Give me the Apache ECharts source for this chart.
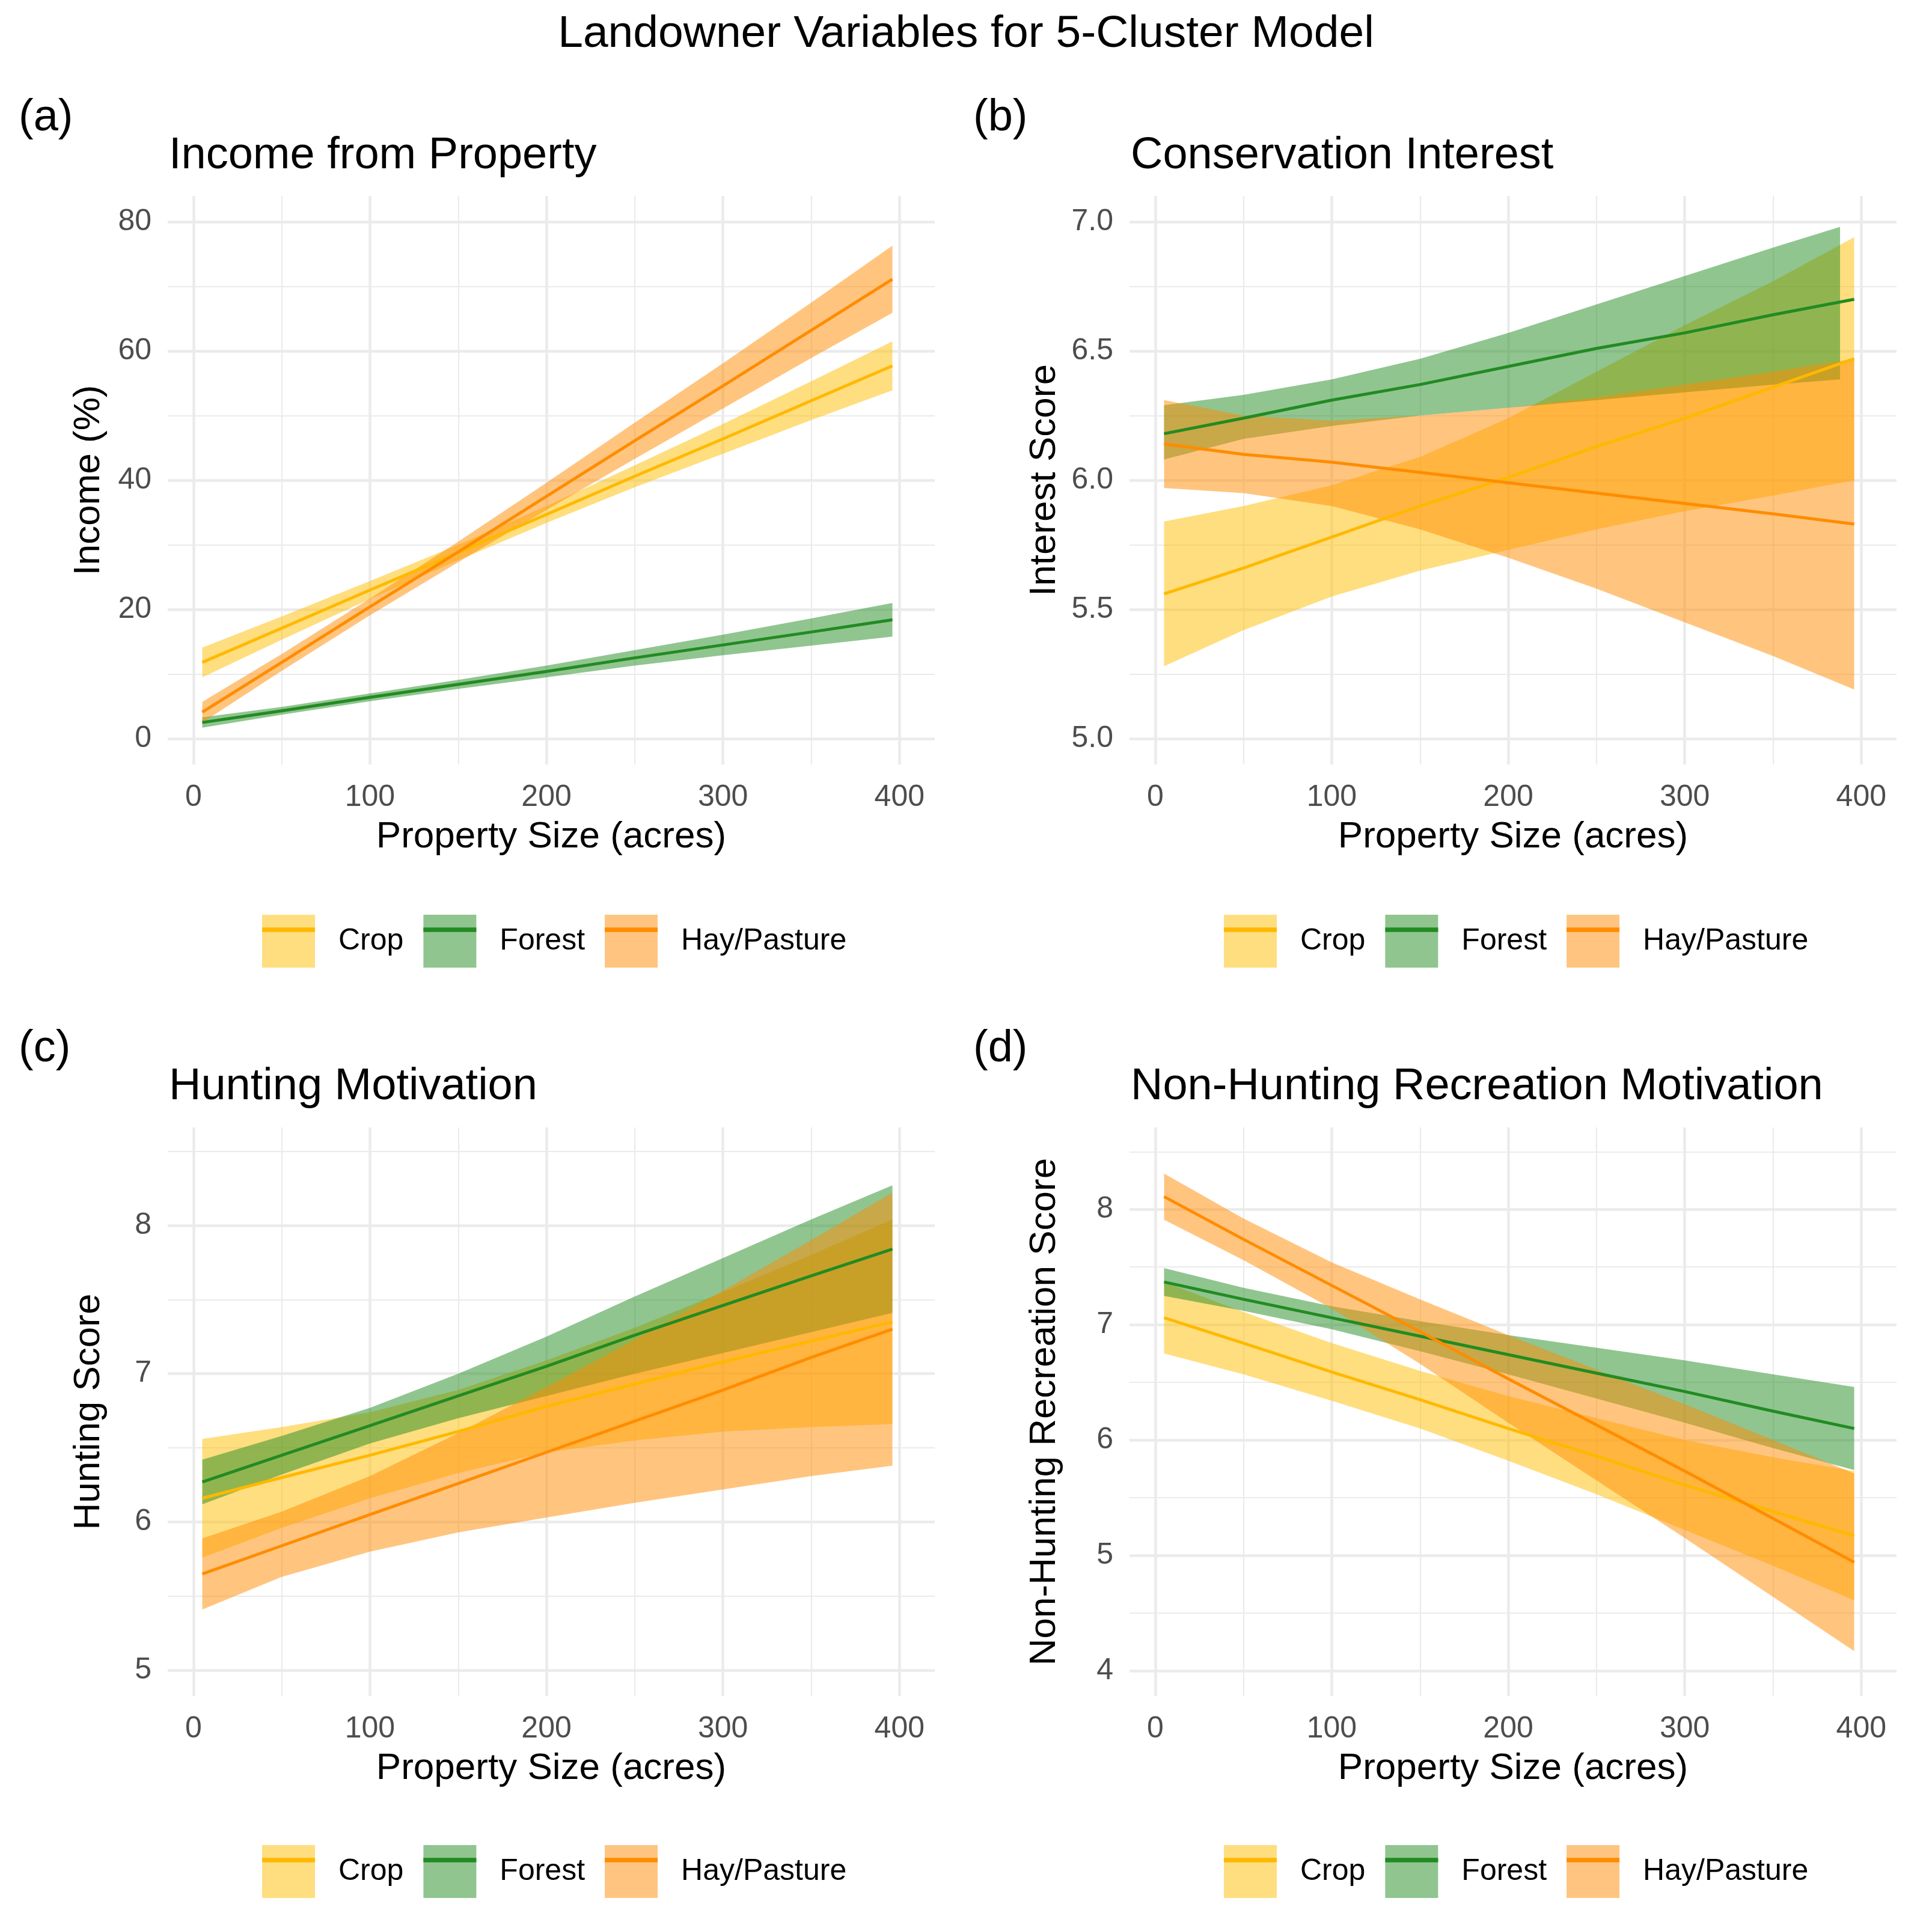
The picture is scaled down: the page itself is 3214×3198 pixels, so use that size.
<!DOCTYPE html>
<html>
<head>
<meta charset="utf-8">
<title>Landowner Variables for 5-Cluster Model</title>
<script src="https://cdn.jsdelivr.net/npm/echarts@6.0.0/dist/echarts.min.js"></script>
<style>
    html, body { margin: 0; padding: 0; background: #fff; }
    #chart { width: 3214px; height: 3198px; }
</style>
</head>
<body>
<div id="chart"></div>
<script>
// x positions (property size, acres)
var xs = [5, 50, 100, 150, 200, 250, 300, 350, 396];
var xsForestBand = [5, 50, 100, 150, 200, 250, 300, 350, 388]; // forest ribbon in (b) stops early

var xTicks = [0, 100, 200, 300, 400];
var xMinor = [50, 150, 250, 350];

var groups = ['Crop', 'Forest', 'Hay/Pasture'];

// (a) Income from Property
var incomeCropMean   = [11.8, 17.1, 23.0, 28.8, 34.7, 40.6, 46.4, 52.3, 57.7];
var incomeCropLow    = [9.5, 15.3, 21.6, 27.6, 33.4, 38.9, 44.1, 49.3, 53.9];
var incomeCropHigh   = [14.1, 18.9, 24.4, 30.0, 36.0, 42.3, 48.7, 55.3, 61.5];
var incomeForestMean = [2.5, 4.3, 6.4, 8.4, 10.4, 12.5, 14.5, 16.5, 18.4];
var incomeForestLow  = [1.7, 3.7, 5.8, 7.7, 9.5, 11.3, 12.9, 14.4, 15.8];
var incomeForestHigh = [3.3, 4.9, 7.0, 9.1, 11.3, 13.7, 16.1, 18.6, 21.0];
var incomeHayMean    = [4.1, 11.8, 20.4, 28.9, 37.5, 46.1, 54.6, 63.2, 71.1];
var incomeHayLow     = [2.5, 10.5, 19.1, 27.3, 35.4, 43.3, 51.1, 58.9, 65.9];
var incomeHayHigh    = [5.7, 13.1, 21.7, 30.5, 39.6, 48.9, 58.1, 67.5, 76.3];
var incomeTicks = [0, 20, 40, 60, 80];
var incomeMinor = [10, 30, 50, 70];

// (b) Conservation Interest
var interestCropMean   = [5.56, 5.66, 5.78, 5.90, 6.01, 6.13, 6.24, 6.36, 6.47];
var interestCropLow    = [5.28, 5.42, 5.55, 5.65, 5.73, 5.81, 5.88, 5.94, 6.00];
var interestCropHigh   = [5.84, 5.90, 5.98, 6.09, 6.24, 6.42, 6.60, 6.77, 6.94];
var interestForestMean = [6.18, 6.24, 6.31, 6.37, 6.44, 6.51, 6.57, 6.64, 6.70];
var interestForestLow  = [6.08, 6.16, 6.21, 6.25, 6.28, 6.31, 6.34, 6.37, 6.39];
var interestForestHigh = [6.29, 6.33, 6.39, 6.47, 6.57, 6.68, 6.79, 6.90, 6.98];
var interestHayMean    = [6.14, 6.10, 6.07, 6.03, 5.99, 5.95, 5.91, 5.87, 5.83];
var interestHayLow     = [5.97, 5.95, 5.90, 5.81, 5.70, 5.58, 5.45, 5.32, 5.19];
var interestHayHigh    = [6.31, 6.25, 6.23, 6.25, 6.28, 6.32, 6.37, 6.42, 6.47];
var interestTicks = [5.0, 5.5, 6.0, 6.5, 7.0];
var interestMinor = [5.25, 5.75, 6.25, 6.75];

// (c) Hunting Motivation
var huntingCropMean   = [6.16, 6.30, 6.45, 6.61, 6.78, 6.93, 7.08, 7.22, 7.35];
var huntingCropLow    = [5.76, 5.96, 6.16, 6.33, 6.47, 6.55, 6.61, 6.64, 6.66];
var huntingCropHigh   = [6.56, 6.64, 6.74, 6.89, 7.09, 7.31, 7.55, 7.80, 8.04];
var huntingForestMean = [6.27, 6.45, 6.65, 6.85, 7.05, 7.26, 7.46, 7.66, 7.84];
var huntingForestLow  = [6.12, 6.32, 6.53, 6.70, 6.85, 7.00, 7.14, 7.28, 7.41];
var huntingForestHigh = [6.42, 6.58, 6.77, 7.00, 7.25, 7.52, 7.78, 8.04, 8.27];
var huntingHayMean    = [5.65, 5.84, 6.05, 6.26, 6.47, 6.68, 6.89, 7.11, 7.30];
var huntingHayLow     = [5.41, 5.63, 5.80, 5.93, 6.03, 6.13, 6.22, 6.31, 6.38];
var huntingHayHigh    = [5.89, 6.07, 6.31, 6.60, 6.91, 7.23, 7.56, 7.90, 8.22];
var huntingTicks = [5, 6, 7, 8];
var huntingMinor = [5.5, 6.5, 7.5, 8.5];

// (d) Non-Hunting Recreation Motivation
var recreationCropMean   = [7.06, 6.84, 6.59, 6.35, 6.10, 5.86, 5.61, 5.38, 5.17];
var recreationCropLow    = [6.75, 6.57, 6.34, 6.10, 5.82, 5.53, 5.22, 4.91, 4.61];
var recreationCropHigh   = [7.37, 7.11, 6.84, 6.60, 6.38, 6.19, 6.00, 5.85, 5.73];
var recreationForestMean = [7.37, 7.22, 7.06, 6.90, 6.74, 6.58, 6.42, 6.25, 6.10];
var recreationForestLow  = [7.25, 7.12, 6.96, 6.77, 6.57, 6.36, 6.15, 5.93, 5.74];
var recreationForestHigh = [7.49, 7.32, 7.16, 7.03, 6.91, 6.80, 6.69, 6.57, 6.46];
var recreationHayMean    = [8.11, 7.74, 7.34, 6.94, 6.53, 6.13, 5.73, 5.32, 4.94];
var recreationHayLow     = [7.91, 7.56, 7.14, 6.66, 6.15, 5.65, 5.15, 4.64, 4.17];
var recreationHayHigh    = [8.31, 7.92, 7.54, 7.22, 6.91, 6.61, 6.31, 6.00, 5.71];
var recreationTicks = [4, 5, 6, 7, 8];
var recreationMinor = [4.5, 5.5, 6.5, 7.5, 8.5];

// 每个子图引用上面的数组
var panels = [
    { tag: '(a)', title: 'Income from Property', yName: 'Income (%)', yMin: -4, yMax: 84,
      yTicks: incomeTicks, yMinor: incomeMinor, digits: 0,
      mean: [incomeCropMean, incomeForestMean, incomeHayMean],
      low: [incomeCropLow, incomeForestLow, incomeHayLow],
      high: [incomeCropHigh, incomeForestHigh, incomeHayHigh],
      bandX: [xs, xs, xs] },
    { tag: '(b)', title: 'Conservation Interest', yName: 'Interest Score', yMin: 4.9, yMax: 7.1,
      yTicks: interestTicks, yMinor: interestMinor, digits: 1,
      mean: [interestCropMean, interestForestMean, interestHayMean],
      low: [interestCropLow, interestForestLow, interestHayLow],
      high: [interestCropHigh, interestForestHigh, interestHayHigh],
      bandX: [xs, xsForestBand, xs] },
    { tag: '(c)', title: 'Hunting Motivation', yName: 'Hunting Score', yMin: 4.827, yMax: 8.66,
      yTicks: huntingTicks, yMinor: huntingMinor, digits: 0,
      mean: [huntingCropMean, huntingForestMean, huntingHayMean],
      low: [huntingCropLow, huntingForestLow, huntingHayLow],
      high: [huntingCropHigh, huntingForestHigh, huntingHayHigh],
      bandX: [xs, xs, xs] },
    { tag: '(d)', title: 'Non-Hunting Recreation Motivation', yName: 'Non-Hunting Recreation Score',
      yMin: 3.78, yMax: 8.71, yTicks: recreationTicks, yMinor: recreationMinor, digits: 0,
      mean: [recreationCropMean, recreationForestMean, recreationHayMean],
      low: [recreationCropLow, recreationForestLow, recreationHayLow],
      high: [recreationCropHigh, recreationForestHigh, recreationHayHigh],
      bandX: [xs, xs, xs] }
];

// 样式和位置
var FONT = "'Liberation Sans', Arial, Helvetica, sans-serif";
var lineColors = ['#FFB800', '#228B22', '#FF8C00'];
var fillColors = ['rgba(255,190,0,0.5)', 'rgba(34,139,34,0.5)', 'rgba(255,140,0,0.5)'];
var keyColors  = ['#FFDE80', '#90C590', '#FFC580']; // ribbon colour over white
var gridColor = '#EBEBEB';
var layout = [
    { left: 279,  top: 326,  tagLeft: 31,   tagTop: 160,  titleTop: 223,  nameGap: 100, legendLeft: 436,  legendTop: 1522 },
    { left: 1879, top: 326,  tagLeft: 1619, tagTop: 160,  titleTop: 223,  nameGap: 110, legendLeft: 2036, legendTop: 1522 },
    { left: 279,  top: 1876, tagLeft: 31,   tagTop: 1709, titleTop: 1772, nameGap: 100, legendLeft: 436,  legendTop: 3070 },
    { left: 1879, top: 1876, tagLeft: 1619, tagTop: 1709, titleTop: 1772, nameGap: 110, legendLeft: 2036, legendTop: 3070 }
];
var panelW = 1276, panelH = 946;

function pairs(xArr, yArr) {
    return xArr.map(function (x, i) { return [x, yArr[i]]; });
}

// 置信带: 整条带画成一个多边形 (上界正向 + 下界反向)
function ribbonRenderer(fill) {
    return function (params, api) {
        if (params.dataIndexInside !== 0) return null;
        var n = params.dataInsideLength;
        var top = [], bottom = [];
        for (var j = 0; j < n; j++) {
            var x = api.value(0, j);
            top.push(api.coord([x, api.value(2, j)]));
            bottom.unshift(api.coord([x, api.value(1, j)]));
        }
        return {
            type: 'polygon',
            shape: { points: top.concat(bottom) },
            style: { fill: fill, stroke: null, lineWidth: 0 },
            silent: true
        };
    };
}

var titles = [{
    text: 'Landowner Variables for 5-Cluster Model',
    left: 'center', top: 20, padding: 0,
    textStyle: { fontSize: 75, fontWeight: 'normal', color: '#000', fontFamily: FONT }
}];
var grids = [], xAxes = [], yAxes = [], series = [], legends = [];

panels.forEach(function (p, i) {
    var L = layout[i];
    titles.push({ text: p.tag, left: L.tagLeft, top: L.tagTop, padding: 0,
        textStyle: { fontSize: 74, fontWeight: 'normal', color: '#000', fontFamily: FONT } });
    titles.push({ text: p.title, left: L.left + 2, top: L.titleTop, padding: 0,
        textStyle: { fontSize: 74, fontWeight: 'normal', color: '#000', fontFamily: FONT } });

    grids.push({ left: L.left, top: L.top, width: panelW, height: panelH, containLabel: false });

    xAxes.push({
        gridIndex: i, type: 'value', min: -14.6, max: 420,
        axisLine: { show: false }, axisTick: { show: false }, splitLine: { show: false },
        axisLabel: { customValues: xTicks, fontSize: 50, color: '#4D4D4D', margin: 30, fontFamily: FONT },
        name: 'Property Size (acres)', nameLocation: 'middle', nameGap: 90,
        nameTextStyle: { fontSize: 62, color: '#000', fontFamily: FONT }
    });
    yAxes.push({
        gridIndex: i, type: 'value', min: p.yMin, max: p.yMax,
        axisLine: { show: false }, axisTick: { show: false }, splitLine: { show: false },
        axisLabel: {
            customValues: p.yTicks, fontSize: 50, color: '#4D4D4D', margin: 27, fontFamily: FONT,
            formatter: (function (d) { return function (v) { return Number(v).toFixed(d); }; })(p.digits)
        },
        name: p.yName, nameLocation: 'middle', nameRotate: 90, nameGap: L.nameGap,
        nameTextStyle: { fontSize: 62, color: '#000', fontFamily: FONT }
    });

    // 网格线 (major + minor) 用 markLine 画
    var major = { color: gridColor, width: 4.5, type: 'solid' };
    var minor = { color: gridColor, width: 2.2, type: 'solid' };
    var gridData = [];
    p.yTicks.forEach(function (v) { gridData.push({ yAxis: v, lineStyle: major }); });
    p.yMinor.forEach(function (v) { gridData.push({ yAxis: v, lineStyle: minor }); });
    xTicks.forEach(function (v) { gridData.push({ xAxis: v, lineStyle: major }); });
    xMinor.forEach(function (v) { gridData.push({ xAxis: v, lineStyle: minor }); });
    series.push({
        type: 'line', xAxisIndex: i, yAxisIndex: i, data: [], silent: true,
        markLine: { silent: true, z: 1, symbol: ['none', 'none'], label: { show: false },
            emphasis: { disabled: true }, animation: false, data: gridData }
    });

    groups.forEach(function (g, k) {
        var bx = p.bandX[k];
        series.push({
            type: 'custom', name: g, xAxisIndex: i, yAxisIndex: i, z: 2, silent: true,
            data: bx.map(function (x, j) { return [x, p.low[k][j], p.high[k][j]]; }),
            encode: { x: 0, y: [1, 2] },
            itemStyle: { color: fillColors[k] },
            renderItem: ribbonRenderer(fillColors[k])
        });
    });
    // 均值线
    groups.forEach(function (g, k) {
        series.push({
            type: 'line', name: g, xAxisIndex: i, yAxisIndex: i, z: 3,
            data: pairs(xs, p.mean[k]), symbol: 'none', silent: true,
            lineStyle: { color: lineColors[k], width: 5 }
        });
    });

    // 图例: 一层方块 + 一层线
    var legendCommon = {
        orient: 'horizontal', left: L.legendLeft, top: L.legendTop, padding: 0,
        itemWidth: 88, itemHeight: 88, itemGap: 33, selectedMode: false
    };
    legends.push(Object.assign({}, legendCommon, {
        z: 4,
        textStyle: { fontSize: 50, color: '#000', fontFamily: FONT, padding: [0, 0, 0, 34] },
        data: groups.map(function (g, k) {
            return { name: g, icon: 'rect',
                itemStyle: { color: keyColors[k], borderColor: keyColors[k], borderWidth: 0, opacity: 1 } };
        })
    }));
    legends.push(Object.assign({}, legendCommon, {
        z: 5,
        textStyle: { fontSize: 50, color: 'rgba(0,0,0,0)', fontFamily: FONT, padding: [0, 0, 0, 34] },
        data: groups.map(function (g, k) {
            return { name: g, icon: 'path://M0,0H80V7H0Z',
                itemStyle: { color: lineColors[k], borderColor: lineColors[k], borderWidth: 0, opacity: 1 } };
        })
    }));
});

var myChart = echarts.init(document.getElementById('chart'), null, { renderer: 'canvas' });
myChart.setOption({
    backgroundColor: '#fff',
    animation: false,
    title: titles,
    legend: legends,
    grid: grids,
    xAxis: xAxes,
    yAxis: yAxes,
    series: series
});
</script>
</body>
</html>
